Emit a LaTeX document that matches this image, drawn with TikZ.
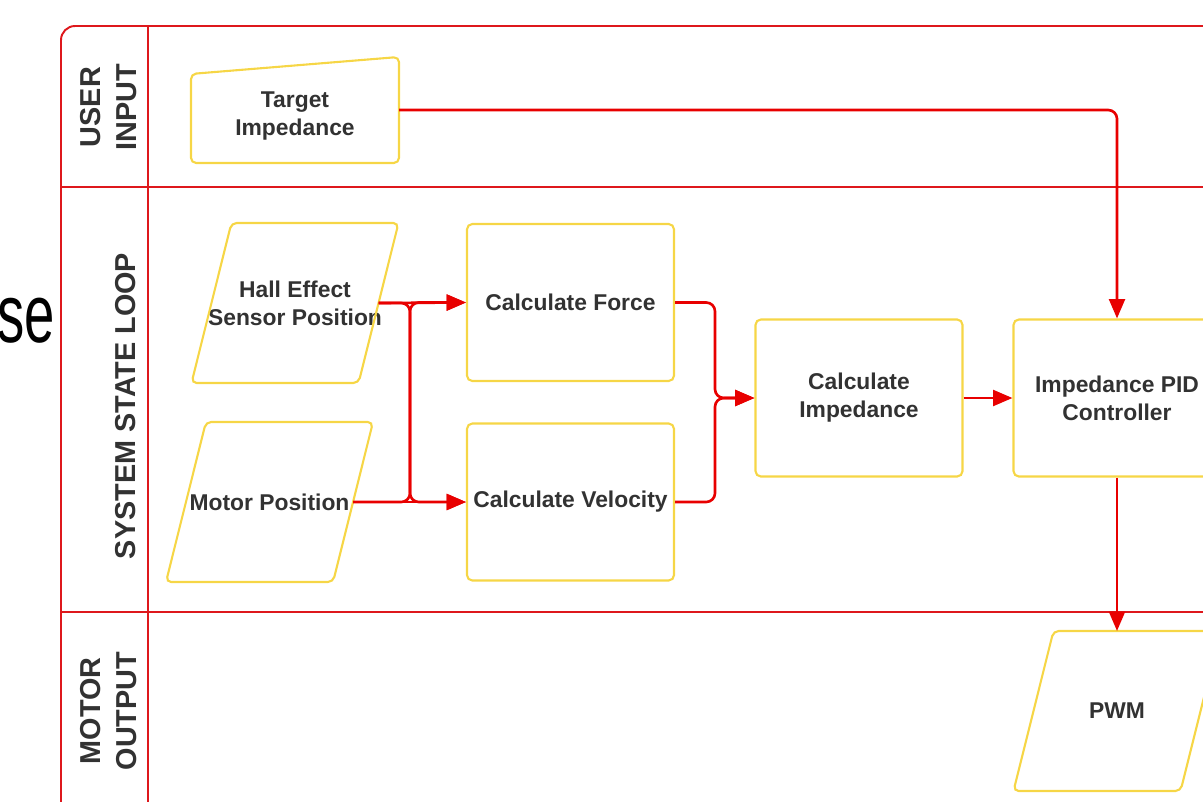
\documentclass[tikz,border=0pt]{standalone}
\usepackage{fontspec}
\setmainfont{Liberation Sans}
\usetikzlibrary{shapes, positioning, arrows.meta}
\definecolor{lanered}{RGB}{222,24,28}
\definecolor{flowred}{RGB}{232,0,0}
\definecolor{boxyellow}{RGB}{246,214,70}
\definecolor{textgray}{RGB}{50,50,50}

\begin{document}
\begin{tikzpicture}[x=0.02cm, y=-0.02cm,
        lane/.style={lanered, line width=1.1pt},
        lanelabel/.style={rotate=90, align=center, text=textgray, font=\bfseries\fontsize{16.4}{20.5}\selectfont},
        outline/.style={draw=boxyellow, line width=1.2pt, rounded corners=3pt},
        process/.style={outline, minimum width=4.14cm, minimum height=3.14cm, align=center, text=textgray, font=\bfseries\fontsize{13}{16}\selectfont},
        data/.style={process, draw=none, minimum width=4.1cm, minimum height=3.16cm},
        flow/.style={flowred, line width=1.5pt, rounded corners=5pt, -{Triangle[length=11pt, width=9pt]}}]
        \useasboundingbox (0,0) rectangle (1203,801);
        \clip (0,0) rectangle (1203,801);

        % pool and lanes
        \draw[lane, rounded corners=8pt] (1220,26) -- (61,26) -- (61,820);
        \draw[lane] (148,26) -- (148,820)
            (61,187) -- (1220,187)
            (61,612) -- (1220,612);

        \node[lanelabel] (userlane) at (109,107) {USER\\INPUT};
        \node[lanelabel] (looplane) at (126,406) {SYSTEM STATE LOOP};
        \node[lanelabel] (motorlane) at (109,711) {MOTOR\\OUTPUT};
        \node[anchor=base east, inner sep=0pt, font=\fontsize{47}{48}\selectfont, text=black] (fragment) at (55,342) {\scalebox{0.66}[1]{se}};

        % manual input
        \node[process, draw=none, minimum width=4.12cm, minimum height=1.84cm] (target) at (295,116) {Target\\Impedance};
        \draw[outline] (target.south west) -- (target.south east)
            -- ([yshift=0.24cm]target.north east) -- ([yshift=-0.1cm]target.north west) -- cycle;

        \node[data] (hall) at (295,303) {Hall Effect\\Sensor Position};
        \node[data] (motorpos) at (269.5,502) {Motor Position};
        \node[process] (force) at (570.5,302.5) {Calculate Force};
        \node[process] (velocity) at (570.5,502) {Calculate Velocity};
        \node[process] (impedance) at (859,398) {Calculate\\Impedance};
        \node[process] (pid) at (1117,398) {Impedance PID\\Controller};
        \node[data] (pwm) at (1117,711) {PWM};

        % parallelograms
        \foreach \io in {hall, motorpos, pwm}
            \draw[outline] ([xshift=0.8cm]\io.north west) -- (\io.north east)
                -- ([xshift=-0.8cm]\io.south east) -- (\io.south west) -- cycle;

        \coordinate (split) at (410,400);
        \coordinate (merge) at (715,398);

        \draw[flow] ([yshift=0.12cm]target.east) -| (pid.north);
        \draw[flow] ([xshift=-0.4cm]hall.east) -- (force.west);
        \draw[flow] ([xshift=-0.4cm]hall.east) -| (split) |- (velocity.west);
        \draw[flow] ([xshift=-0.4cm]motorpos.east) -- (velocity.west);
        \draw[flow] ([xshift=-0.4cm]motorpos.east) -| (split) |- (force.west);
        \draw[flow] (force.east) -| (merge) -- (impedance.west);
        \draw[flow] (velocity.east) -| (merge) -- (impedance.west);
        \draw[flow] (impedance.east) -- (pid.west);
        \draw[flow] (pid.south) -- (pwm.north);
    \end{tikzpicture}
\end{document}
